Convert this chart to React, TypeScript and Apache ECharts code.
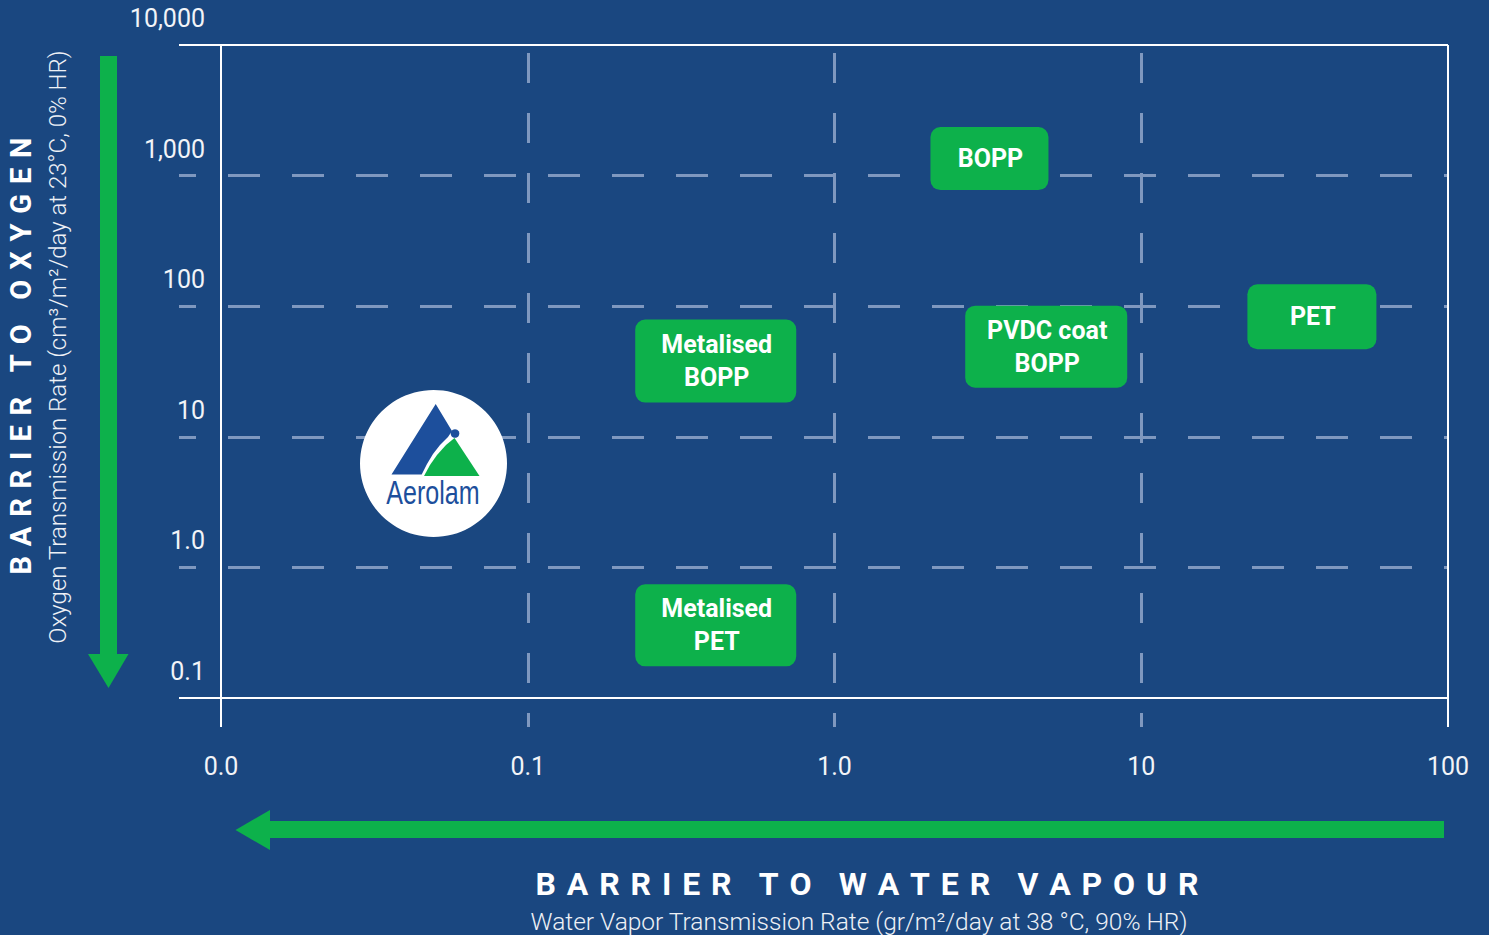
import React, { useEffect, useRef } from "react";
import * as echarts from "echarts";

// Axis ticks (log10 of the rates) and their printed labels
const xTickValues = [-2, -1, 0, 1, 2];
const xTickLabels = ["0.0", "0.1", "1.0", "10", "100"];
const yTickValues = [-1, 0, 1, 2, 3, 4];
const yTickLabels = ["0.1", "1.0", "10", "100", "1,000", "10,000"];

// Materials: water vapour (g/m²/day) and oxygen (cm³/m²/day) transmission rates
const materials = ["BOPP", "Metalised\nBOPP", "PVDC coat\nBOPP", "PET", "Metalised\nPET"];
const wvtr = [3.2, 0.41, 4.9, 36, 0.41];
const otr = [1350, 38, 49, 83, 0.36];

// Box sizes for the material labels (style)
const boxSizes = [
  [118, 63],
  [161, 83],
  [162, 82],
  [129, 65],
  [161, 82],
];

const xTitle = "BARRIER TO WATER VAPOUR";
const xSubtitle = "Water Vapor Transmission Rate (gr/m²/day at 38 °C, 90% HR)";
const yTitle = "BARRIER TO OXYGEN";
const ySubtitle = "Oxygen Transmission Rate (cm³/m²/day at 23°C, 0% HR)";

const BG = "#1a4780";
const GREEN = "#0db14b";
const DASH = "#7f98bf";
const LOGO_BLUE = "#1d4f9c";
const FONT = "Roboto";

// letter-spaced caps: three-per-em space between letters, wider gap between words
const LETTER_GAP = "\u2004";
const WORD_GAP = "\u2004\u2004\u2006";
const spaced = (s: string) =>
  s
    .split(" ")
    .map((w) => w.split("").join(LETTER_GAP))
    .join(WORD_GAP);

export default function App() {
  const ref = useRef<HTMLDivElement>(null);
  useEffect(() => {
    if (!ref.current) return;
    const chart = echarts.init(ref.current, undefined, { renderer: "svg" });

    const points = materials.map((_, i) => [Math.log10(wvtr[i]), Math.log10(otr[i])]);

    const hLine = (v: number) => ({
      yAxis: v,
      lineStyle: { color: DASH, width: 3, type: [32, 32], dashOffset: 15 },
    });
    const vLine = (v: number) => ({
      xAxis: v,
      lineStyle: { color: DASH, width: 3, type: [30, 30], dashOffset: 16 },
    });
    const solidH = (v: number) => ({ yAxis: v, lineStyle: { color: "#ffffff", width: 2, type: "solid" } });
    const solidV = (v: number) => ({ xAxis: v, lineStyle: { color: "#ffffff", width: 2, type: "solid" } });

    const xMinT = xTickValues[0];
    const xMaxT = xTickValues[xTickValues.length - 1];
    const yMinT = yTickValues[0];
    const yMaxT = yTickValues[yTickValues.length - 1];

    const option: any = {
      animation: false,
      backgroundColor: BG,
      grid: { left: 179, right: 41, top: 45, bottom: 208, containLabel: false },
      xAxis: {
        type: "value",
        min: -2.137,
        max: 2,
        axisLine: { show: false },
        axisTick: { show: false },
        splitLine: { show: false },
        axisLabel: {
          customValues: xTickValues,
          formatter: (v: number) => xTickLabels[xTickValues.indexOf(Math.round(v))] ?? "",
          color: "#f2f4f8",
          fontFamily: FONT,
          fontSize: 25,
          lineHeight: 25,
          margin: 27,
        },
      },
      yAxis: {
        type: "value",
        min: -1.222,
        max: 4,
        offset: -42,
        axisLine: { show: false },
        axisTick: { show: false },
        splitLine: { show: false },
        axisLabel: {
          customValues: yTickValues,
          formatter: (v: number) => yTickLabels[yTickValues.indexOf(Math.round(v))] ?? "",
          color: "#f2f4f8",
          fontFamily: FONT,
          fontSize: 25,
          lineHeight: 25,
          margin: 16,
          verticalAlign: "bottom",
          padding: [0, 0, 14, 0],
        },
      },
      series: [
        {
          type: "line",
          data: [],
          z: 1,
          silent: true,
          markLine: {
            silent: true,
            symbol: ["none", "none"],
            label: { show: false },
            emphasis: { disabled: true },
            data: [
              ...yTickValues.slice(1, -1).map(hLine),
              ...xTickValues.slice(1, -1).map(vLine),
              solidH(yMinT),
              solidH(yMaxT),
              solidV(xMinT),
              solidV(xMaxT),
            ],
          },
        },
        {
          type: "custom",
          z: 5,
          clip: false,
          data: points,
          renderItem: (params: any, api: any) => {
            const p = api.coord([api.value(0), api.value(1)]);
            const [w, h] = boxSizes[params.dataIndex];
            return {
              type: "group",
              children: [
                {
                  type: "rect",
                  shape: { x: p[0] - w / 2, y: p[1] - h / 2, width: w, height: h, r: 10 },
                  style: { fill: GREEN },
                },
                {
                  type: "text",
                  x: p[0] + 1,
                  y: p[1],
                  style: {
                    text: materials[params.dataIndex],
                    fill: "#ffffff",
                    fontFamily: FONT,
                    fontSize: 25,
                    fontWeight: "bold",
                    lineHeight: 33,
                    align: "center",
                    verticalAlign: "middle",
                  },
                },
              ],
            };
          },
        },
      ],
      graphic: [
        // vertical arrow
        { type: "rect", z: 10, shape: { x: 100, y: 56, width: 17, height: 600 }, style: { fill: GREEN } },
        { type: "polygon", z: 10, shape: { points: [[88, 654], [128.5, 654], [108.5, 688]] }, style: { fill: GREEN } },
        // horizontal arrow
        { type: "rect", z: 10, shape: { x: 269, y: 821, width: 1175, height: 17 }, style: { fill: GREEN } },
        { type: "polygon", z: 10, shape: { points: [[270, 810], [270, 850], [235.5, 830]] }, style: { fill: GREEN } },
        // titles
        {
          type: "text",
          z: 10,
          x: 867,
          y: 884,
          style: {
            text: spaced(xTitle),
            fill: "#ffffff",
            fontFamily: FONT,
            fontSize: 32,
            fontWeight: "bold",
            align: "center",
            verticalAlign: "middle",
          },
        },
        {
          type: "text",
          z: 10,
          x: 859,
          y: 921,
          style: {
            text: xSubtitle,
            fill: "#eef1f6",
            fontFamily: FONT,
            fontSize: 24.5,
            fontWeight: 300,
            align: "center",
            verticalAlign: "middle",
          },
        },
        {
          type: "text",
          z: 10,
          x: 21,
          y: 356,
          rotation: Math.PI / 2,
          style: {
            text: spaced(yTitle),
            fill: "#ffffff",
            fontFamily: FONT,
            fontSize: 29,
            fontWeight: "bold",
            align: "center",
            verticalAlign: "middle",
          },
        },
        {
          type: "text",
          z: 10,
          x: 58,
          y: 347,
          rotation: Math.PI / 2,
          style: {
            text: ySubtitle,
            fill: "#eef1f6",
            fontFamily: FONT,
            fontSize: 24,
            fontWeight: 300,
            align: "center",
            verticalAlign: "middle",
          },
        },
        // logo
        { type: "circle", z: 10, shape: { cx: 433.5, cy: 463.5, r: 73.5 }, style: { fill: "#ffffff" } },
        {
          type: "polygon",
          z: 11,
          shape: {
            points: [
              [435.7, 404],
              [452, 431],
              [448, 437],
              [440, 445],
              [433, 454],
              [427, 464],
              [421.7, 474.5],
              [391.5, 474.5],
            ],
          },
          style: { fill: LOGO_BLUE },
        },
        {
          type: "polygon",
          z: 11,
          shape: {
            points: [
              [454.5, 438],
              [479.5, 476],
              [424, 476],
              [430, 465],
              [437, 455],
              [446, 445],
            ],
          },
          style: { fill: GREEN },
        },
        { type: "circle", z: 12, shape: { cx: 455, cy: 433.5, r: 4.3 }, style: { fill: LOGO_BLUE } },
        {
          type: "text",
          z: 12,
          x: 433,
          y: 492,
          scaleX: 0.76,
          style: {
            text: "Aerolam",
            fill: LOGO_BLUE,
            fontFamily: "Liberation Sans",
            fontSize: 33,
            align: "center",
            verticalAlign: "middle",
          },
        },
      ],
    };

    chart.setOption(option);
    return () => chart.dispose();
  }, []);

  return (
    <div
      ref={ref}
      style={{ position: "fixed", left: 0, top: 0, width: 1489, height: 935 }}
    />
  );
}
